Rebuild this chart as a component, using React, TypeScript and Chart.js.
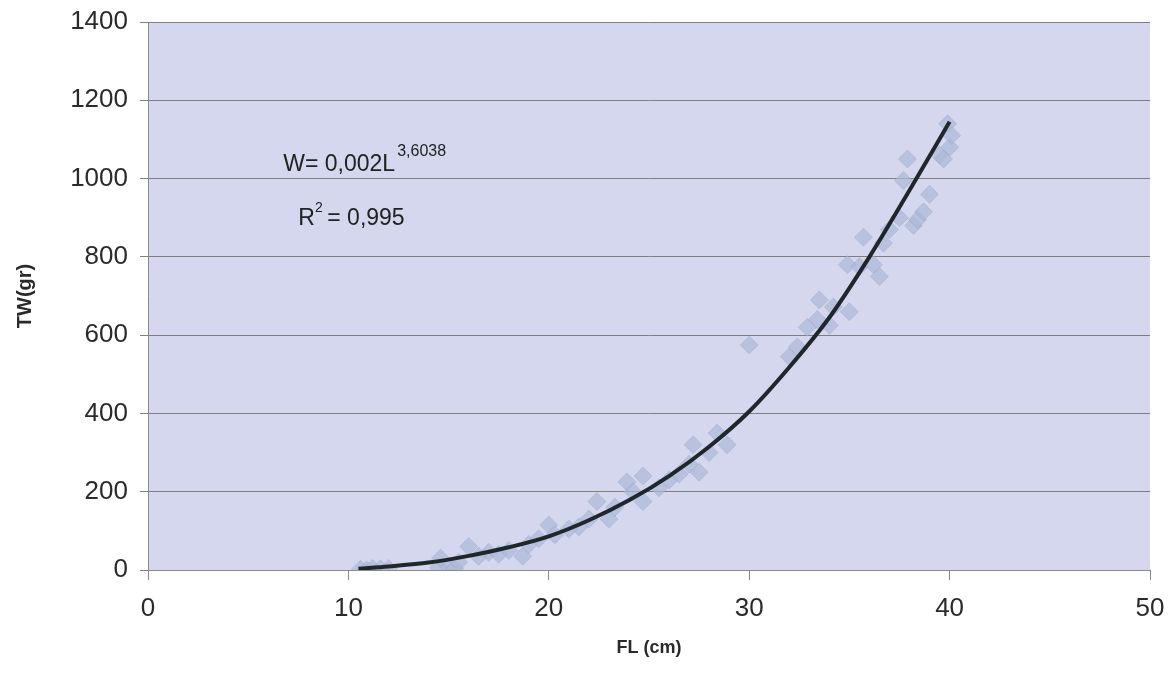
import React, { useEffect, useRef } from "react";
import { Chart, registerables } from "chart.js";

Chart.register(...registerables);

// Observed fish: fork length (cm) and total weight (g)
const obsLength = [
  10.6, 10.9, 11.2, 11.6, 12.0, 14.5, 15.0, 15.3, 14.6, 15.5, 16.0, 16.5, 17.0, 17.5, 18.0, 18.7, 19.0,
  19.5, 20.0, 20.3, 21.0, 21.5, 22.0, 22.4, 23.0, 23.3, 23.9, 24.2, 24.7, 24.7, 25.5, 26.0, 26.5, 27.0,
  27.2, 27.5, 28.0, 28.4, 28.9, 30.0, 32.0, 32.4, 32.9, 33.4, 33.5, 34.0, 34.2, 34.9, 35.0, 35.5, 35.7,
  36.2, 36.5, 36.7, 37.0, 37.5, 37.7, 37.9, 38.2, 38.4, 38.7, 39.0, 39.5, 39.7, 39.9, 40.0, 40.1,
];
const obsWeight = [
  2, 0, 4, 3, 4, 6, 8, 4, 30, 20, 60, 35, 45, 40, 50, 35, 65,
  80, 115, 90, 105, 110, 130, 175, 130, 160, 225, 200, 240, 175, 210, 230, 245, 270,
  320, 250, 300, 350, 320, 575, 545, 570, 620, 640, 690, 625, 672, 780, 660, 775, 850,
  780, 750, 835, 870, 900, 995, 1050, 880, 895, 915, 960, 1060, 1050, 1140, 1080, 1110,
];

// Fitted power curve
const curveLength = [10.5, 12, 14, 16, 18, 20, 22, 24, 26, 28, 30, 32, 34, 36, 38, 40];
const curveWeight = [3, 9, 19, 36, 58, 86, 127, 178, 240, 315, 405, 518, 645, 800, 970, 1145];

const equationText = "W= 0,002L";
const exponentText = "3,6038";
const r2Label = "R";
const r2Sup = "2";
const r2Value = " = 0,995";

const xTitle = "FL (cm)";
const yTitle = "TW(gr)";

const FONT = "'Liberation Sans', Arial, sans-serif";

export default function App() {
  const ref = useRef<HTMLCanvasElement | null>(null);

  useEffect(() => {
    if (!ref.current) return;

    const bgPlugin = {
      id: "plotBg",
      beforeDraw(chart: any) {
        const { ctx, chartArea } = chart;
        ctx.save();
        ctx.fillStyle = "#d4d7ee";
        ctx.fillRect(chartArea.left, chartArea.top, chartArea.right - chartArea.left, chartArea.bottom - chartArea.top);
        ctx.restore();
      },
    };

    const eqPlugin = {
      id: "equation",
      afterDraw(chart: any) {
        const { ctx, scales } = chart;
        const x = scales.x.getPixelForValue(6.75);
        const y1 = scales.y.getPixelForValue(1020);
        const y2 = scales.y.getPixelForValue(882);
        ctx.save();
        ctx.fillStyle = "#222";
        ctx.textBaseline = "alphabetic";
        ctx.textAlign = "left";
        ctx.font = `23px ${FONT}`;
        ctx.fillText(equationText, x, y1);
        const w1 = ctx.measureText(equationText).width;
        ctx.font = `16px ${FONT}`;
        ctx.fillText(exponentText, x + w1 + 2, y1 - 15);
        const xr = x + 15;
        ctx.font = `23px ${FONT}`;
        ctx.fillText(r2Label, xr, y2);
        const wr = ctx.measureText(r2Label).width;
        ctx.font = `14px ${FONT}`;
        ctx.fillText(r2Sup, xr + wr, y2 - 13);
        ctx.font = `23px ${FONT}`;
        ctx.fillText(r2Value, xr + wr + 6, y2);
        ctx.restore();
      },
    };

    const chart = new Chart(ref.current, {
      type: "scatter",
      data: {
        datasets: [
          {
            label: "fit",
            data: curveLength.map((l, i) => ({ x: l, y: curveWeight[i] })),
            showLine: true,
            borderColor: "#1f262c",
            borderWidth: 4,
            pointRadius: 0,
            cubicInterpolationMode: "monotone",
            order: 0,
          },
          {
            label: "obs",
            data: obsLength.map((l, i) => ({ x: l, y: obsWeight[i] })),
            pointStyle: "rectRot",
            pointRadius: 9,
            backgroundColor: "rgba(172,184,214,0.7)",
            borderColor: "rgba(150,160,195,0.35)",
            borderWidth: 1,
            order: 1,
          },
        ],
      },
      options: {
        animation: false,
        responsive: false,
        maintainAspectRatio: false,
        layout: { padding: { top: 22, right: 21, bottom: 0, left: 0 } },
        plugins: { legend: { display: false }, tooltip: { enabled: false } },
        scales: {
          x: {
            type: "linear",
            min: 0,
            max: 50,
            ticks: {
              stepSize: 10,
              color: "#2a2a2a",
              font: { family: FONT, size: 26 },
              padding: 13,
              callback: (v: any) => String(v),
            },
            grid: { drawOnChartArea: false, drawTicks: true, tickLength: 10, color: "#8a8a8a" },
            border: { color: "#8a8a8a" },
            title: {
              display: true,
              text: xTitle,
              color: "#2a2a2a",
              font: { family: FONT, size: 18, weight: "bold" },
              padding: { top: 0, bottom: 18 },
            },
            afterFit(scale: any) {
              scale.height = 107;
              scale.paddingLeft = 0;
              scale.paddingRight = 0;
            },
          },
          y: {
            type: "linear",
            min: 0,
            max: 1400,
            ticks: {
              stepSize: 200,
              color: "#2a2a2a",
              font: { family: FONT, size: 26 },
              padding: 12,
              callback: (v: any) => String(v),
            },
            grid: { color: "#7f7f7f", tickLength: 8, lineWidth: 1 },
            border: { color: "#8a8a8a" },
            title: {
              display: true,
              text: yTitle,
              color: "#2a2a2a",
              font: { family: FONT, size: 20, weight: "bold" },
              padding: { top: 13, bottom: 0 },
            },
            afterFit(scale: any) {
              scale.width = 148;
              scale.paddingTop = 0;
              scale.paddingBottom = 0;
            },
          },
        },
      },
      plugins: [bgPlugin, eqPlugin],
    } as any);

    return () => chart.destroy();
  }, []);

  return (
    <div style={{ position: "fixed", left: 0, top: 0, width: 1171, height: 677, background: "#fff" }}>
      <canvas ref={ref} width={1171} height={677} style={{ display: "block", width: 1171, height: 677 }} />
    </div>
  );
}
